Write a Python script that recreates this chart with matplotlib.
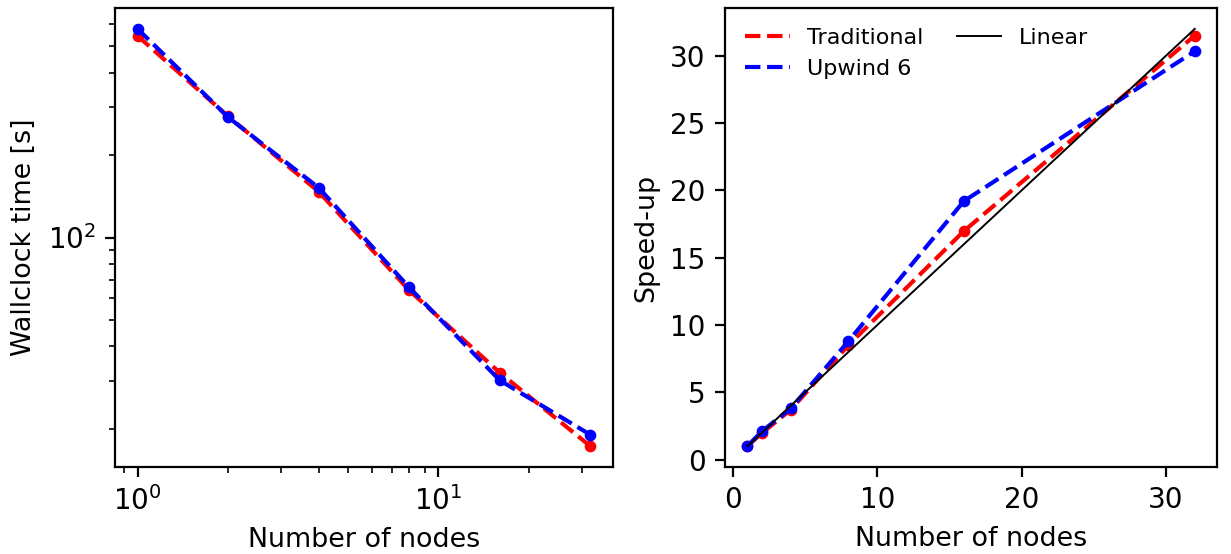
import numpy as np
import matplotlib
matplotlib.use("Agg")
import matplotlib.pyplot as plt

# Strong scaling runs
nodes = [1, 2, 4, 8, 16, 32]
time_traditional = [545, 277, 147, 64.1, 32.1, 17.3]
time_upwind6 = [578, 275, 152, 65.7, 30.1, 19.05]

nodes = np.array(nodes)
time_traditional = np.array(time_traditional)
time_upwind6 = np.array(time_upwind6)

# Speed-up relative to a single node
speedup_traditional = time_traditional[0] / time_traditional
speedup_upwind6 = time_upwind6[0] / time_upwind6

fig = plt.figure(figsize=(6.155, 2.77), dpi=200)
ax1 = fig.add_axes([0.0934, 0.157, 0.4045, 0.8285])
ax2 = fig.add_axes([0.589, 0.157, 0.3997, 0.8285])

# Wallclock time, log-log (lines and dots drawn separately)
ax1.loglog(nodes, time_traditional, 'r--', label='Traditional')
ax1.loglog(nodes, time_traditional, 'ro', ms=3.2)
ax1.loglog(nodes, time_upwind6, 'b--', label='Upwind 6')
ax1.loglog(nodes, time_upwind6, 'bo', ms=3.2)
ax1.set_xlabel('Number of nodes', fontsize=9.7)
ax1.set_ylabel('Wallclock time [s]', fontsize=9.7)

# Speed-up vs ideal
ax2.plot(nodes, speedup_traditional, 'r--', label='Traditional')
ax2.plot(nodes, speedup_traditional, 'ro', ms=3.2)
ax2.plot(nodes, speedup_upwind6, 'b--', label='Upwind 6')
ax2.plot(nodes, speedup_upwind6, 'bo', ms=3.2)
ax2.plot(nodes, nodes, 'k-', lw=0.7, label='Linear')
ax2.set_xlabel('Number of nodes', fontsize=9.7)
ax2.set_ylabel('Speed-up', fontsize=9.7)
ax2.set_xticks([0, 10, 20, 30])
ax2.set_yticks([0, 5, 10, 15, 20, 25, 30])
ax2.legend(loc='upper left', ncol=2, frameon=False, fontsize=8,
           columnspacing=1.5)

fig.savefig('out.png', dpi=200)
